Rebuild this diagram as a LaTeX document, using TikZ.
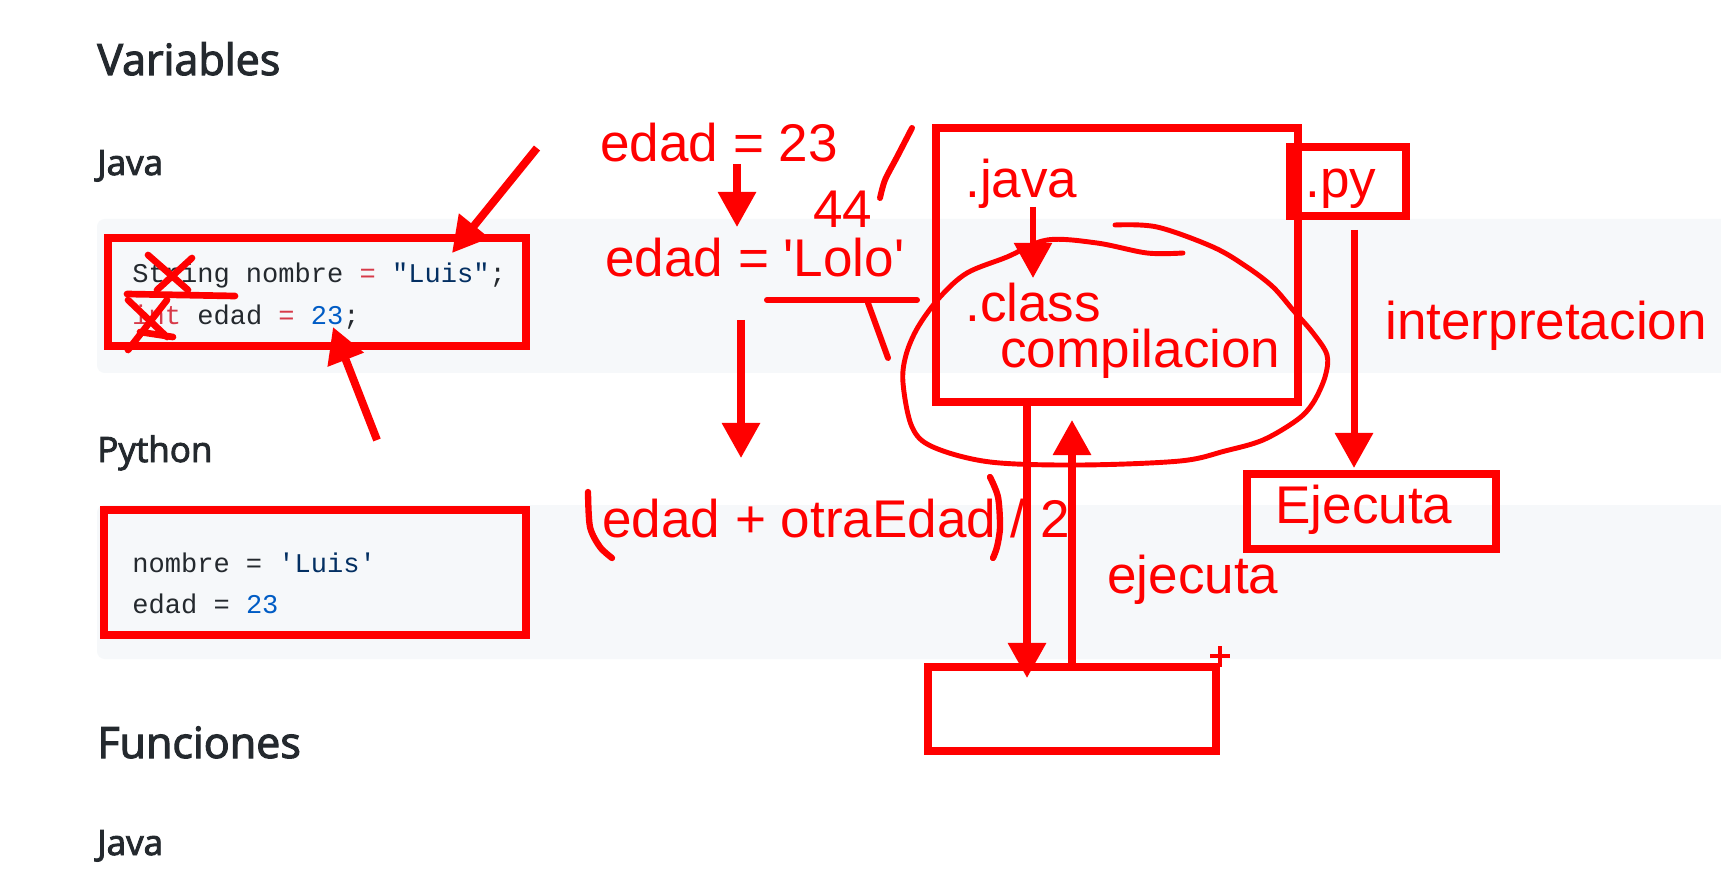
\documentclass[tikz,border=0pt]{standalone}
\usepackage{fontspec}
\usetikzlibrary{arrows.meta}
\newfontfamily\handfont{Liberation Sans}
\newfontfamily\codefont{Liberation Mono}
\newfontfamily\headfont{Open Sans}[FakeBold=2.6]
\definecolor{inkred}{HTML}{FF0000}
\definecolor{panelgray}{HTML}{F6F8FA}
\definecolor{codedark}{HTML}{24292E}
\definecolor{codered}{HTML}{D73A49}
\definecolor{codeblue}{HTML}{005CC5}
\definecolor{codestr}{HTML}{032F62}
\newdimen\pxu \pxu=0.02cm
\begin{document}
\begin{tikzpicture}[
    x=0.02cm, y=-0.02cm,
    panel/.style = {fill=panelgray, rounded corners=4.5pt},
    heading/.style = {anchor=base west, inner sep=0, text=codedark, font=\headfont\fontsize{24.5pt}{29pt}\selectfont},
    subhead/.style = {anchor=base west, inner sep=0, text=codedark, font=\headfont\fontsize{19.9pt}{24pt}\selectfont},
    code/.style = {anchor=base west, inner sep=0, text=codedark, font=\codefont\fontsize{15.4pt}{18pt}\selectfont},
    hand/.style = {anchor=base west, inner sep=0, text=inkred, font=\handfont\fontsize{30.2pt}{36pt}\selectfont},
    redbox/.style = {rectangle, draw=inkred, line width=4.2pt, inner sep=0},
    arr/.style = {draw=inkred, line width=4pt, -{Triangle[width=21pt,length=20pt]}},
    scribble/.style = {draw=inkred, line width=3pt, line cap=round, line join=round}
]
    \useasboundingbox (0,0) rectangle (1721,878);
    \fill[white] (0,0) rectangle (1721,878);

    % Paneles de codigo
    \fill[panel] (97,219) rectangle (1760,373);
    \fill[panel] (97,505) rectangle (1760,659);

    % Titulos
    \node[heading] (variables) at (97,75) {Variables};
    \node[subhead] (java) at (97,175) {Java};
    \node[subhead] (python) at (97,462) {Python};
    \node[heading] (funciones) at (97,758) {Funciones};
    \node[subhead] (java2) at (97,855) {Java};

    % Codigo
    \node[code] (jline1) at (132,283) {String nombre \textcolor{codered}{=} \textcolor{codestr}{\textquotedbl Luis\textquotedbl};};
    \node[code] (jline2) at (132,325) {\textcolor{codered}{int} edad \textcolor{codered}{=} \textcolor{codeblue}{23};};
    \node[code] (pline1) at (132,572) {nombre = \textcolor{codestr}{\textquotesingle Luis\textquotesingle}};
    \node[code] (pline2) at (132,613) {edad = \textcolor{codeblue}{23}};

    % Recuadros
    \node[redbox, minimum width=418*\pxu, minimum height=108*\pxu] (jbox) at (317,292) {};
    \node[redbox, minimum width=422*\pxu, minimum height=125*\pxu] (pbox) at (315,572.5) {};
    \node[redbox, minimum width=362*\pxu, minimum height=274*\pxu] (javabox) at (1117,265) {};
    \node[redbox, minimum width=116*\pxu, minimum height=69*\pxu] (pybox) at (1348,181.5) {};
    \node[redbox, minimum width=249*\pxu, minimum height=75*\pxu] (ejbox) at (1371.5,511.5) {};
    \node[redbox, minimum width=288*\pxu, minimum height=84*\pxu] (blankbox) at (1072,709) {};

    % Notas a mano
    \node[hand] (edad23) at (600,162) {edad = 23};
    \node[hand] (n44) at (813,228) {44};
    \node[hand] (lolo) at (605,277) {edad = \textquotesingle Lolo\textquotesingle};
    \node[hand] (promedio) at (602,537) {edad + otraEdad / 2};
    \node[hand] (dotjava) at (965,198) {.java};
    \node[hand] (dotclass) at (965,322) {.class};
    \node[hand] (compil) at (1000,368) {compilacion};
    \node[hand] (dotpy) at (1305,198) {.py};
    \node[hand] (interp) at (1385,340) {interpretacion};
    \node[hand] (ejecuta) at (1275,523) {Ejecuta};
    \node[hand] (ejec2) at (1107,593) {ejecuta};

    % Extremos libres
    \coordinate (a1s) at (537,148);
    \coordinate (a1e) at (452,253);
    \coordinate (a2s) at (377,440);
    \coordinate (a2e) at (333,327);
    \coordinate (lolo-s) at (737,164);
    \coordinate (lolo-e) at (737,227);
    \coordinate (prom-s) at (741,320);
    \coordinate (prom-e) at (741,458);
    \coordinate (class-s) at (1033,207);
    \coordinate (class-e) at (1033,278);
    \coordinate (py-s) at (1354,230);
    \coordinate (py-e) at (1354,468);
    \coordinate (dn-e) at (1027,678);
    \coordinate (up-e) at (1072,420);

    % Flechas
    \draw[arr, line width=4.5pt] (a1s) -- (a1e);
    \draw[arr, line width=4.5pt] (a2s) -- (a2e);
    \draw[arr] (lolo-s) -- (lolo-e);
    \draw[arr] (prom-s) -- (prom-e);
    \draw[arr, line width=3.6pt] (class-s) -- (class-e);
    \draw[arr] (py-s) -- (py-e);
    \draw[arr] (javabox.south -| dn-e) -- (dn-e);
    \draw[arr] (blankbox.north -| up-e) -- (up-e);

    % Tachones
    \draw[scribble, line width=3.8pt] (148,255) -- (188,290) (192,258) -- (157,290);
    \draw[scribble, line width=3.8pt] (127,294) -- (235,296);
    \draw[scribble, line width=3.8pt] (128,300) -- (167,337) (167,300) -- (128,350) (140,332) -- (173,337);

    % Trazos sueltos
    \draw[scribble, line width=3.4pt] plot[smooth] coordinates {(912,128) (897,157) (885,180) (880,198)};
    \draw[scribble, line width=3.4pt] (767,300) -- (917,300);
    \draw[scribble, line width=3.4pt] (868,303) -- (888,358);
    \draw[scribble, line width=3.6pt] plot[smooth] coordinates {(588,492) (590,527) (600,547) (612,558)};
    \draw[scribble, line width=3.6pt] plot[smooth] coordinates {(990,477) (998,497) (1000,527) (997,547) (993,558)};
    \draw[scribble, line width=2.3pt, line cap=butt] (1210,656) -- (1230,656) (1220,646) -- (1220,667);

    % Lazo de compilacion
    \draw[scribble, line width=2.8pt] plot[smooth, tension=0.55] coordinates {
        (1115,225) (1157,227) (1213,247) (1247,267) (1273,287) (1293,310) (1313,333)
        (1327,355) (1325,377) (1313,403) (1297,420) (1263,440) (1225,451) (1180,461)
        (1080,465) (990,462) (933,447) (912,427) (903,383) (906,355) (918,327)
        (940,297) (967,273) (1007,257) (1047,240) (1097,243) (1147,253) (1183,253)};

\end{tikzpicture}
\end{document}
